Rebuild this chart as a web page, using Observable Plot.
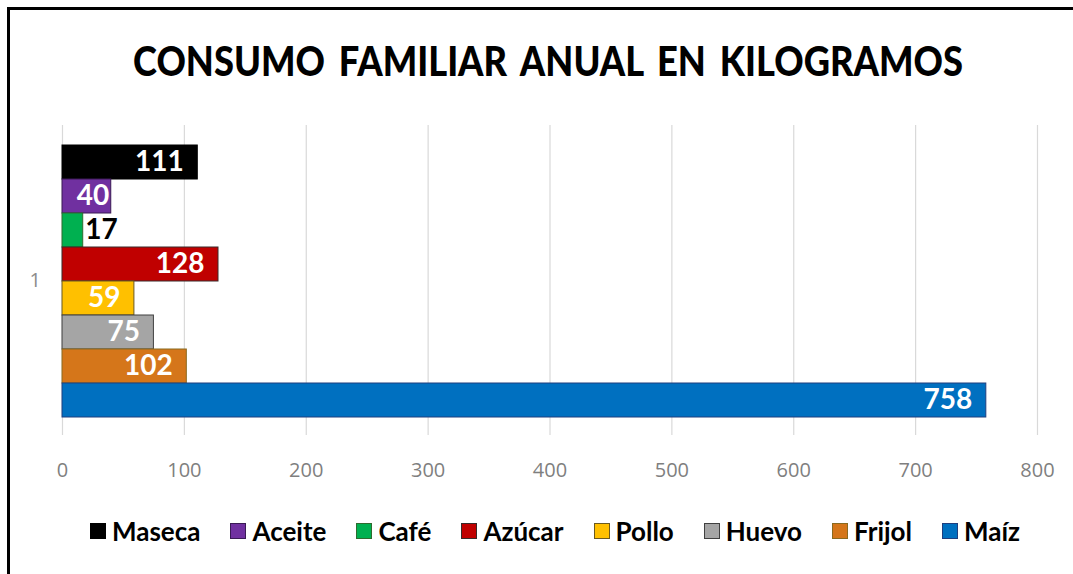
<!DOCTYPE html>
<html>
<head>
<meta charset="utf-8">
<script src="https://cdn.jsdelivr.net/npm/d3@7"></script>
<script src="https://cdn.jsdelivr.net/npm/@observablehq/plot@0.6"></script>
<style>
  html, body { margin: 0; padding: 0; background: #fff; overflow: hidden; }
  body { width: 1073px; height: 574px; position: relative; font-family: Lato, "Open Sans", sans-serif; }
  #frame { position: absolute; left: 7px; top: 7px; width: 1080px; height: 580px; border-left: 3px solid #000; border-top: 3px solid #000; }
  #title { position: absolute; left: 23px; width: 1050px; top: 36px; text-align: center; font-weight: 900; font-size: 41px; word-spacing: 6px; color: #000; transform: scaleX(0.885); transform-origin: 525px 50%; }
  #chart { position: absolute; left: 0; top: 100px; }
  #legend { position: absolute; left: 26px; width: 1058px; top: 515px; display: flex; justify-content: center; gap: 30px; font-weight: 700; font-size: 26px; color: #000; }
  .item { display: flex; align-items: center; gap: 6px; }
  .sw { width: 14px; height: 14px; border: 1.5px solid #333; }
</style>
</head>
<body>
<div id="frame"></div>
<div id="title">CONSUMO FAMILIAR ANUAL EN KILOGRAMOS</div>
<div id="chart"></div>
<div id="legend"></div>
<script>
const categories = ["Maseca", "Aceite", "Café", "Azúcar", "Pollo", "Huevo", "Frijol", "Maíz"];
const values = [111, 40, 17, 128, 59, 75, 102, 758];
const colors = ["#000000", "#7030A0", "#00B050", "#C00000", "#FFC000", "#A5A5A5", "#D5761A", "#0070C0"];
const strokes = ["#000000", "#3a1a55", "#2f6b2f", "#3a2a2a", "#6b5a20", "#404040", "#8a6a20", "#1f3f7f"];
const xTicks = [0, 100, 200, 300, 400, 500, 600, 700, 800];
const groupLabel = "1";

const data = categories.map((c, i) => ({cat: c, v: values[i], fill: colors[i], stroke: strokes[i]}));
const insideWide = data.filter(d => d.v >= 50);
const insideTight = data.filter(d => d.v >= 30 && d.v < 50);
const outside = data.filter(d => d.v < 30);

const labelStyle = {x: "v", y: "cat", text: d => String(d.v), fontWeight: "bold", fontSize: 28, fontFamily: "Lato, sans-serif"};

const plot = Plot.plot({
  width: 1073,
  height: 400,
  marginLeft: 62,
  marginRight: 36,
  marginTop: 25,
  marginBottom: 65,
  style: {fontFamily: "'Open Sans', sans-serif", background: "transparent"},
  x: {domain: [0, 800], ticks: xTicks, grid: false, label: null},
  y: {domain: categories, padding: 0, insetTop: 18, insetBottom: 17, axis: null},
  marks: [
    Plot.gridX(xTicks, {stroke: "#d9d9d9", strokeOpacity: 1, strokeWidth: 1.2}),
    Plot.axisX(xTicks, {tickSize: 0, tickPadding: 27, fontSize: 20, fill: "#7f7f7f", label: null, tickFormat: d => String(d)}),
    Plot.barX(data, {x: "v", y: "cat", fill: d => d.fill, stroke: d => d.stroke, strokeWidth: 1}),
    Plot.text(insideWide, {...labelStyle, textAnchor: "end", dx: -14, fill: "#fff"}),
    Plot.text(insideTight, {...labelStyle, textAnchor: "end", dx: -2, fill: "#fff"}),
    Plot.text(outside, {...labelStyle, textAnchor: "start", dx: 2, fill: "#000"}),
    Plot.text([groupLabel], {frameAnchor: "left", dx: -33, text: d => d, fill: "#8c8c8c", fontSize: 20})
  ]
});
document.getElementById("chart").appendChild(plot);

const legend = document.getElementById("legend");
data.forEach(d => {
  const it = document.createElement("div");
  it.className = "item";
  const sw = document.createElement("div");
  sw.className = "sw";
  sw.style.background = d.fill;
  sw.style.borderColor = d.stroke;
  const t = document.createElement("span");
  t.textContent = d.cat;
  it.appendChild(sw);
  it.appendChild(t);
  legend.appendChild(it);
});
</script>
</body>
</html>
